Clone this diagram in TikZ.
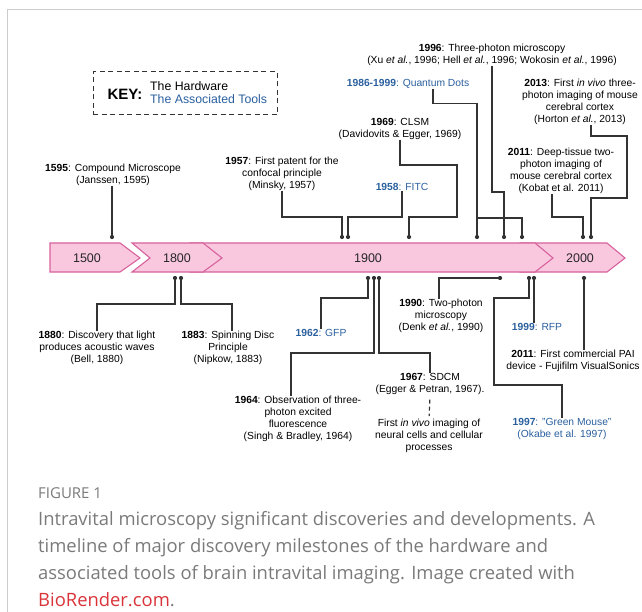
\documentclass[tikz,border=0pt]{standalone}
\usepackage{fontspec}
\setmainfont{Liberation Sans}
\newfontfamily\capfont{Open Sans}
\usetikzlibrary{calc}
\definecolor{BarFill}   {HTML}{F9C8DF}
\definecolor{BarStroke} {HTML}{D8629C}
\definecolor{LineGray}  {HTML}{333333}
\definecolor{ToolBlue}  {HTML}{2A5F9E}
\definecolor{FrameGray} {HTML}{CCCCCC}
\definecolor{CapGray}   {HTML}{7A7A7A}
\definecolor{LinkRed}   {HTML}{D9343A}
\tikzset{
  x=1pt, y=-1pt,
  bar/.style={fill=BarFill, draw=BarStroke, line width=1.1pt},
  yearlbl/.style={font=\fontsize{12.5}{14}\selectfont, text=black!85},
  event/.style={font=\fontsize{10.3}{12}\selectfont, align=center,
                inner sep=0pt, anchor=north},
  tool/.style={event, text=ToolBlue},
  conn/.style={draw=LineGray, line width=1.2pt},
  dot/.style={circle, fill=LineGray, inner sep=0pt, minimum size=4.2pt},
  keybox/.style={draw=LineGray, dash pattern=on 5pt off 3.5pt, line width=1pt,
                 minimum width=184pt, minimum height=43pt},
  capfig/.style={font=\capfont\fontsize{15}{17}\selectfont, text=CapGray,
                 anchor=west, inner sep=0pt},
  captxt/.style={font=\capfont\fontsize{18.4}{27}\selectfont, text=CapGray,
                 align=left, anchor=north west, inner sep=0pt},
}

\begin{document}
\begin{tikzpicture}
\useasboundingbox (0,0) rectangle (642,612);

% frame
\draw[FrameGray, line width=0.8pt] (642,9) -- (7,9) -- (7,612);

% ── Timeline bar ──────────────────────────────────────────────
\draw[bar] (520,243) -- (607,243) -- (625,258) -- (607,272) -- (520,272) -- cycle;
\draw[bar] (190,243) -- (535,243) -- (553,258) -- (535,272) -- (190,272) -- cycle;
\draw[bar] (132,243) -- (203,243) -- (222,258) -- (203,272) -- (132,272) -- (150,258) -- cycle;
\draw[bar] (50,243) -- (120,243) -- (140,258) -- (120,272) -- (50,272) -- cycle;

\node[yearlbl] (y1500) at (87,258)  {1500};
\node[yearlbl] (y1800) at (177,258) {1800};
\node[yearlbl] (y1900) at (368,258) {1900};
\node[yearlbl] (y2000) at (580,258) {2000};

% ── Key ───────────────────────────────────────────────────────
\node[keybox] (key) at (185,93.5) {};
\node[font=\fontsize{15}{17}\selectfont\bfseries] (keyhead) at (125,94.5) {KEY:};
\node[font=\fontsize{12.3}{13}\selectfont, align=left, anchor=west, inner sep=0pt]
  (keytext) at (150,92.5) {The Hardware\\\textcolor{ToolBlue}{The Associated Tools}};

% ── Dots ──────────────────────────────────────────────────────
% above the bar
\node[dot] (d1595)  at (112,237) {};
\node[dot] (d1957)  at (342,237) {};
\node[dot] (d1958)  at (348,237) {};
\node[dot] (d1969)  at (409,237) {};
\node[dot] (dQD)    at (477,237) {};
\node[dot] (d1996)  at (504,237) {};
\node[dot] (d1996b) at (522,237) {};
\node[dot] (d2011)  at (583,237) {};
\node[dot] (d2013)  at (591,237) {};
% below the bar
\node[dot] (d1880)  at (175,278) {};
\node[dot] (d1883)  at (181,278) {};
\node[dot] (d1962)  at (368,278) {};
\node[dot] (d1964)  at (374,278) {};
\node[dot] (d1967)  at (379,278) {};
\node[dot] (d1990)  at (500,278) {};
\node[dot] (d1997)  at (529,278) {};
\node[dot] (d1999)  at (534,278) {};
\node[dot] (dPAI)   at (584,278) {};

% ── Events above ──────────────────────────────────────────────
\node[event] (t1595) at (113,164) {\textbf{1595}: Compound Microscope\\(Janssen, 1595)};
\node[event] (t1957) at (282,157) {\textbf{1957}: First patent for the\\confocal principle\\(Minsky, 1957)};
\node[tool]  (t1958) at (402,183) {\textbf{1958}: FITC};
\node[event] (t1969) at (400,118) {\textbf{1969}: CLSM\\(Davidovits \& Egger, 1969)};
\node[tool]  (tQD)   at (408,79)  {\textbf{1986-1999}: Quantum Dots};
\node[event] (t1996) at (492,44)  {\textbf{1996}: Three-photon microscopy\\(Xu \textit{et al.}, 1996; Hell \textit{et al.}, 1996; Wokosin \textit{et al.}, 1996)};
\node[event] (t2013) at (580,79)  {\textbf{2013}: First \textit{in vivo} three-\\photon imaging of mouse\\cerebral cortex\\(Horton \textit{et al.}, 2013)};
\node[event] (t2011) at (561,148) {\textbf{2011}: Deep-tissue two-\\photon imaging of\\mouse cerebral cortex\\(Kobat et al. 2011)};

% ── Events below ──────────────────────────────────────────────
\node[event] (t1880) at (97,331)  {\textbf{1880}: Discovery that light\\produces acoustic waves\\(Bell, 1880)};
\node[event] (t1883) at (228,331) {\textbf{1883}: Spinning Disc\\Principle\\(Nipkow, 1883)};
\node[tool]  (t1962) at (321,329) {\textbf{1962}: GFP};
\node[event] (t1964) at (298,396) {\textbf{1964}: Observation of three-\\photon excited\\fluorescence\\(Singh \& Bradley, 1964)};
\node[event] (t1967) at (430,373) {\textbf{1967}: SDCM\\(Egger \& Petran, 1967).};
\node[event] (tvivo) at (429,419) {First \textit{in vivo} imaging of\\neural cells and cellular\\processes};
\node[event] (t1990) at (441,299) {\textbf{1990}: Two-photon\\microscopy\\(Denk \textit{et al.}, 1990)};
\node[tool]  (t1999) at (537,323) {\textbf{1999}: RFP};
\node[event] (tPAI)  at (573,350) {\textbf{2011}: First commercial PAI\\device - Fujifilm VisualSonics};
\node[tool]  (t1997) at (562,418) {\textbf{1997}: "Green Mouse"\\(Okabe et al. 1997)};

% ── Connectors above ──────────────────────────────────────────
\draw[conn] (d1595 |- t1595.south) -- (d1595);
\draw[conn] (t1957.south) |- ($(d1957)+(0,-20)$) -- (d1957);
\draw[conn] (t1958.south) |- ($(d1958)+(0,-20)$) -- (d1958);
\draw[conn] (t1969.south) |- (457,165) |- ($(d1969)+(0,-20)$) -- (d1969);
\draw[conn] ($(tQD.south)+(25,0)$) -- ++(0,15) -| (dQD);
\draw[conn] (t1996.south) |- ($(d1996)+(0,-45)$) -- (d1996);
\draw[conn] ($(dQD)+(0,-19)$) -| (d1996b);
\draw[conn] ($(t2013.south)+(11,0)$) -- ++(0,11) -| (627,198) -| (d2013);
\draw[conn] ($(t2011.south)+(-9,0)$) |- ($(d2011)+(0,-20)$) -- (d2011);

% ── Connectors below ──────────────────────────────────────────
\draw[conn] (d1880) -- ++(0,26) -| (t1880.north);
\draw[conn] (d1883) -- ++(0,26) -| ($(t1883.north)+(4,0)$);
\draw[conn] (d1962) -- ++(0,20) -| (t1962.north);
\draw[conn] (d1964) -- ++(0,75) -| ($(t1964.north)+(-7,0)$);
\draw[conn] (d1967) -- ++(0,75) -| (t1967.north);
\draw[conn, dash pattern=on 4pt off 3pt, shorten <=5pt, shorten >=3pt] (t1967.south) -- (tvivo.north);
\draw[conn] (d1990) -| ($(t1990.north)+(-2,0)$);
\draw[conn] (d1997) -- ++(0,20) -| (494,385) -| (t1997.north);
\draw[conn] (d1999) -- (d1999 |- t1999.north);
\draw[conn] (dPAI) -- (dPAI |- tPAI.north);

% ── Caption ───────────────────────────────────────────────────
\node[capfig] (figlbl) at (38,493) {FIGURE 1};
\node[captxt] (caption) at (38,511) {Intravital microscopy significant discoveries and developments. A\\
timeline of major discovery milestones of the hardware and\\
associated tools of brain intravital imaging. Image created with\\
\textcolor{LinkRed}{BioRender.com}.};

\end{tikzpicture}
\end{document}
